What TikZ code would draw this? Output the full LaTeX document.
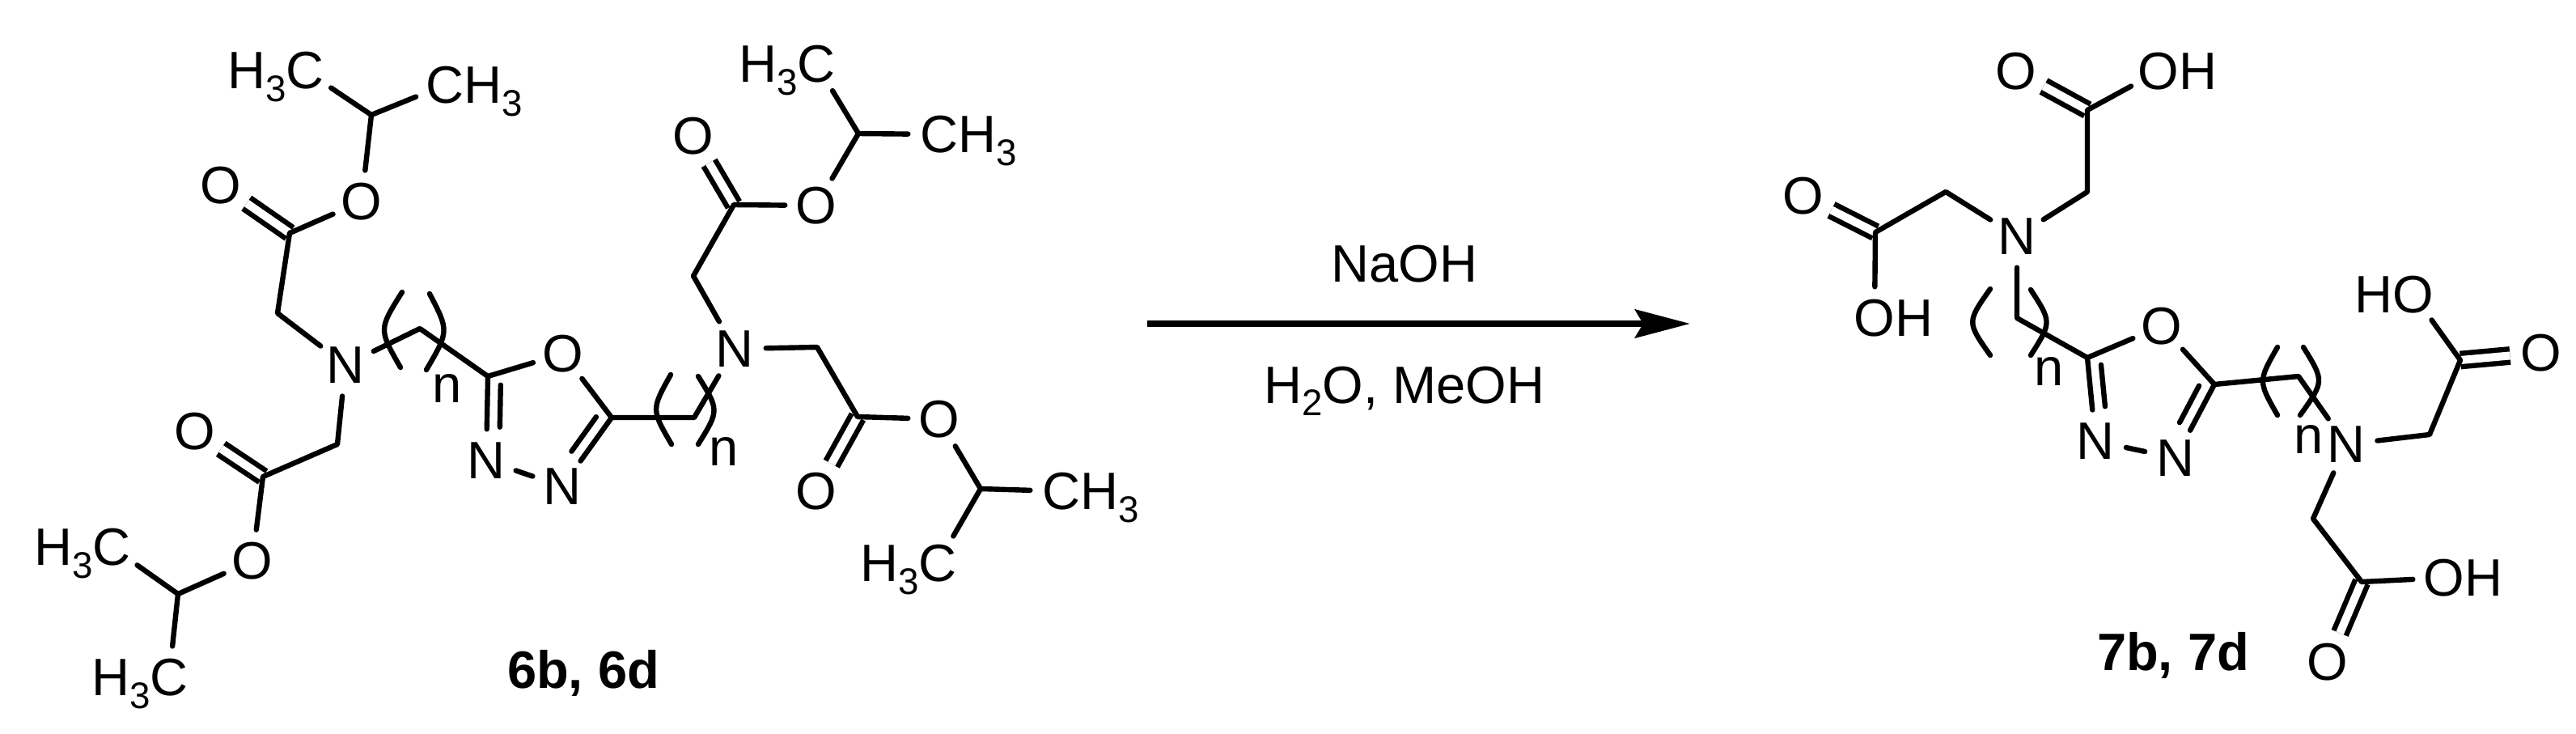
\documentclass[tikz,border=0pt]{standalone}
\usepackage{fontspec}
\setmainfont{Liberation Sans}
\usetikzlibrary{arrows.meta,calc}

\newcommand{\subnum}[1]{\raisebox{-4.5pt}{\fontsize{13}{13}\selectfont #1}}
\newcommand{\Hleft}{\smash{\llap{H\subnum{3}}}}
\newcommand{\Hright}{\smash{\rlap{H\subnum{3}}}}
\newcommand{\ringbond}[3]{\draw[bond] ($(#1)!.1!(#2)!.16cm!#3:(#2)$) -- ($(#1)!.6!(#2)!.16cm!#3:(#2)$);}

\tikzset{
  txt/.style={inner sep=0pt, font=\fontsize{18.5}{20}\selectfont},
  atom/.style={txt, circle, minimum size=.76cm},
  bond/.style={line width=.064cm, line cap=round, line join=round},
  dbl/.style={line width=.064cm, double, double distance=.1cm},
}

\begin{document}
\begin{tikzpicture}
\useasboundingbox (0,0) rectangle (31.84,-9.06);

% left molecule
\node[atom] (meA) at (3.77,-0.87) {\Hleft C};
\node[atom] (meB) at (5.50,-1.05) {C\Hright};
\node[atom] (oA) at (4.47,-2.49) {O};
\node[atom] (oB) at (2.73,-2.29) {O};
\node[atom] (nA) at (4.27,-4.51) {N};
\node[atom] (ringO) at (6.96,-4.37) {O};
\node[atom] (nB) at (6.01,-5.69) {N};
\node[atom] (nC) at (6.95,-6.01) {N};
\node[atom] (oC) at (2.41,-5.33) {O};
\node[atom] (oD) at (3.12,-6.93) {O};
\node[atom] (meC) at (1.38,-6.76) {\Hleft C};
\node[atom] (meD) at (2.09,-8.37) {\Hleft C};
\node[atom] (nD) at (9.08,-4.31) {N};
\node[atom] (oE) at (8.57,-1.68) {O};
\node[atom] (oF) at (10.09,-2.54) {O};
\node[atom] (meE) at (10.09,-0.79) {\Hleft C};
\node[atom] (meF) at (11.61,-1.66) {C\Hright};
\node[atom] (oG) at (10.09,-6.07) {O};
\node[atom] (oH) at (11.61,-5.18) {O};
\node[atom] (meG) at (13.12,-6.07) {C\Hright};
\node[atom] (meH) at (11.59,-6.96) {\Hleft C};

\coordinate (chA) at (4.59,-1.42);
\coordinate (coA) at (3.58,-2.88);
\coordinate (chtwoA) at (3.43,-3.87);
\coordinate (chtwoB) at (5.19,-4.06);
\coordinate (ringA) at (6.03,-4.65);
\coordinate (ringB) at (7.56,-5.16);
\coordinate (chtwoC) at (4.17,-5.49);
\coordinate (coB) at (3.25,-5.89);
\coordinate (chB) at (2.20,-7.34);
\coordinate (chtwoD) at (8.58,-5.16);
\coordinate (chtwoE) at (8.57,-3.41);
\coordinate (coC) at (9.07,-2.53);
\coordinate (chC) at (10.61,-1.65);
\coordinate (chtwoF) at (10.10,-4.29);
\coordinate (coD) at (10.60,-5.15);
\coordinate (chD) at (12.12,-6.04);

\draw[dbl] (coA) -- (oB);
\draw[dbl] (coB) -- (oC);
\draw[dbl] (coC) -- (oE);
\draw[dbl] (coD) -- (oG);

\draw[bond] (meA) -- (chA) -- (meB);
\draw[bond] (chA) -- (oA) -- (coA) -- (chtwoA) -- (nA) -- (chtwoB) -- (ringA) -- (ringO) -- (ringB);
\draw[bond] (ringA) -- (nB) -- (nC) -- (ringB);
\ringbond{ringA}{nB}{90}
\ringbond{ringB}{nC}{-90}
\draw[bond] (nA) -- (chtwoC) -- (coB) -- (oD) -- (chB) -- (meC);
\draw[bond] (chB) -- (meD);
\draw[bond] (ringB) -- (chtwoD) -- (nD) -- (chtwoE) -- (coC) -- (oF) -- (chC) -- (meE);
\draw[bond] (chC) -- (meF);
\draw[bond] (nD) -- (chtwoF) -- (coD) -- (oH) -- (chD) -- (meG);
\draw[bond] (chD) -- (meH);

\draw[bond] (4.97,-3.61) .. controls (4.68,-4.07) .. (4.95,-4.54);
\draw[bond] (5.31,-3.63) .. controls (5.55,-4.09) .. (5.27,-4.57);
\draw[bond] (8.29,-4.63) .. controls (8.05,-5.06) .. (8.30,-5.49);
\draw[bond] (8.63,-4.65) .. controls (8.89,-5.07) .. (8.63,-5.49);
\node[txt] (nleftA) at (5.53,-4.80) {n};
\node[txt] (nleftB) at (8.95,-5.58) {n};
\node[txt, anchor=base] (labelA) at (7.21,-8.50) {\textbf{6b, 6d}};

% arrow
\coordinate (arrowstart) at (14.18,-4.00);
\coordinate (arrowend) at (20.89,-4.00);
\draw[line width=.08cm, -{Stealth[length=.68cm, width=.35cm, inset=.1cm]}] (arrowstart) -- (arrowend);
\node[txt, anchor=base] (reagentA) at (17.36,-3.48) {NaOH};
\node[txt, anchor=base] (reagentB) at (17.36,-4.98) {H\subnum{2}O, MeOH};

% right molecule
\node[atom] (roA) at (24.92,-0.88) {O};
\node[atom] (roB) at (26.68,-0.88) {O\rlap{H}};
\node[atom] (rnA) at (24.93,-2.92) {N};
\node[atom] (roC) at (22.29,-2.42) {O};
\node[atom] (roD) at (23.17,-3.93) {O\rlap{H}};
\node[atom] (rringO) at (26.72,-4.03) {O};
\node[atom] (rnB) at (25.90,-5.45) {N};
\node[atom] (rnC) at (26.89,-5.66) {N};
\node[atom] (rnD) at (29.00,-5.49) {N};
\node[atom] (roE) at (29.83,-3.64) {\llap{H}O};
\node[atom] (roF) at (31.41,-4.36) {O};
\node[atom] (roG) at (30.21,-7.14) {O\rlap{H}};
\node[atom] (roH) at (28.77,-8.18) {O};

\coordinate (rcoA) at (25.80,-1.36);
\coordinate (rchtwoA) at (25.80,-2.37);
\coordinate (rchtwoB) at (24.05,-2.37);
\coordinate (rcoB) at (23.18,-2.87);
\coordinate (rchtwoC) at (24.93,-3.93);
\coordinate (rringA) at (25.80,-4.42);
\coordinate (rringB) at (27.37,-4.75);
\coordinate (rchtwoD) at (28.41,-4.65);
\coordinate (rchtwoE) at (30.03,-5.37);
\coordinate (rcoC) at (30.41,-4.45);
\coordinate (rchtwoF) at (28.59,-6.41);
\coordinate (rcoD) at (29.19,-7.19);

\draw[dbl] (rcoA) -- (roA);
\draw[dbl] (rcoB) -- (roC);
\draw[dbl] (rcoC) -- (roF);
\draw[dbl] (rcoD) -- (roH);

\draw[bond] (roB) -- (rcoA) -- (rchtwoA) -- (rnA) -- (rchtwoB) -- (rcoB) -- (roD);
\draw[bond] (rnA) -- (rchtwoC) -- (rringA) -- (rringO) -- (rringB);
\draw[bond] (rringA) -- (rnB) -- (rnC) -- (rringB);
\ringbond{rringA}{rnB}{90}
\ringbond{rringB}{rnC}{-90}
\draw[bond] (rringB) -- (rchtwoD) -- (rnD) -- (rchtwoE) -- (rcoC) -- (roE);
\draw[bond] (rnD) -- (rchtwoF) -- (rcoD) -- (roG);

\draw[bond] (24.60,-3.57) .. controls (24.31,-3.98) .. (24.60,-4.39);
\draw[bond] (25.10,-3.58) .. controls (25.36,-3.98) .. (25.10,-4.39);
\draw[bond] (28.15,-4.29) .. controls (27.91,-4.71) .. (28.15,-5.13);
\draw[bond] (28.47,-4.29) .. controls (28.73,-4.71) .. (28.43,-5.13);
\node[txt] (nrightA) at (25.33,-4.59) {n};
\node[txt] (nrightB) at (28.54,-5.43) {n};
\node[txt, anchor=base] (labelB) at (26.86,-8.28) {\textbf{7b, 7d}};

\end{tikzpicture}
\end{document}
